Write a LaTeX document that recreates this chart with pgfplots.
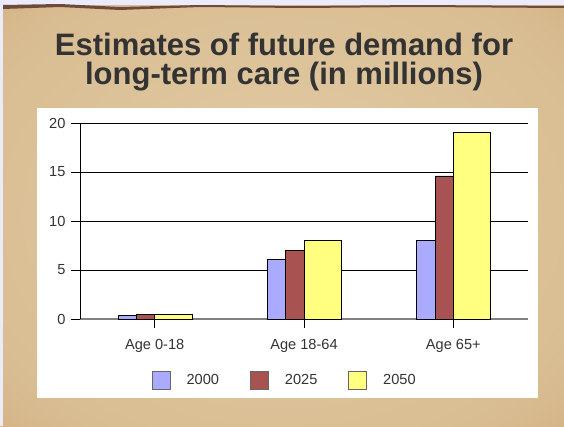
\documentclass[border=0pt]{standalone}
\usepackage{fontspec}
\setmainfont{Liberation Sans}
\usepackage{pgfplots}
\pgfplotsset{compat=1.18}
\definecolor{c2000}{HTML}{AAAAFF}
\definecolor{c2025}{HTML}{A85252}
\definecolor{c2050}{HTML}{FFFF80}
\definecolor{paperlight}{HTML}{E2CCA6}
\definecolor{paper}{HTML}{D9BD92}
\definecolor{paperdark}{HTML}{C49E6C}
\definecolor{edge}{HTML}{6E4A3A}
\definecolor{txt}{HTML}{333333}
\pgfdeclareradialshading{parch}{\pgfpoint{0bp}{0bp}}{color(0bp)=(paperlight); color(30bp)=(paper); color(50bp)=(paperdark); color(72bp)=(paperdark)}

\begin{document}
\begin{tikzpicture}
\useasboundingbox (0pt,0pt) rectangle (564pt,-426pt);
\shade[shading=parch] (0pt,0pt) rectangle (564pt,-426pt);
% torn top edge
\fill[black!20!blue!8!white] (0pt,0pt) rectangle (564pt,-5pt);
\fill[black!20!blue!8!white] (0pt,0pt) rectangle (3pt,-426pt);
\fill[edge] (3pt,-5pt) -- (60pt,-4pt) -- (120pt,-7pt) -- (200pt,-5pt) -- (300pt,-6pt) -- (420pt,-5pt) -- (564pt,-6pt)
  -- (564pt,-8pt) -- (420pt,-7pt) -- (300pt,-8pt) -- (200pt,-7pt) -- (120pt,-10pt) -- (60pt,-7pt) -- (3pt,-9pt) -- cycle;
\fill[white] (37pt,-108pt) rectangle (538pt,-398pt);
\node[font=\bfseries\fontsize{31}{33}\selectfont, text=txt] at (284pt,-44pt) {Estimates of future demand for};
\node[font=\bfseries\fontsize{31}{33}\selectfont, text=txt] at (284pt,-77pt) {long-term care (in millions)};

\begin{axis}[at={(80pt,-319pt)}, anchor=south west, scale only axis,
  width=448pt, height=196pt,
  xmin=-0.5, xmax=2.5, ymin=0, ymax=20,
  ybar,
  axis x line*=bottom, axis y line*=left,
  x axis line style={draw=black!50, line width=1.6pt},
  y axis line style={draw=black, line width=0.8pt},
  xtick={0,1,2}, xticklabels={Age 0-18, Age 18-64, Age 65+},
  ytick={0,5,10,15,20},
  ymajorgrids, grid style={black, line width=0.8pt},
  tick align=outside, major tick length=9pt,
  tick style={black, line width=0.8pt},
  tick label style={font=\fontsize{14.6}{16}\selectfont, text=txt},
  xticklabel style={yshift=-8pt},
  yticklabel style={xshift=-2pt},
  /pgf/number format/assume math mode=true,
  legend style={at={(0.457,-0.311)}, anchor=center, draw=none, fill=none,
    font=\fontsize{14.6}{16}\selectfont, text=txt,
    /tikz/every odd column/.append style={column sep=14pt},
    /tikz/every even column/.append style={column sep=29pt}},
  legend columns=3,
  legend image code/.code={\draw[#1, draw=black!60, line width=0.8pt] (0pt,-9pt) rectangle (18pt,9pt);},
]
\addplot[fill=c2000, draw=black, line width=0.8pt, bar width=18.3pt, bar shift=-27.5pt] coordinates {(0,0.4) (1,6.1) (2,8.0)};
\addplot[fill=c2025, draw=black, line width=0.8pt, bar width=18.3pt, bar shift=-9pt] coordinates {(0,0.5) (1,7.0) (2,14.6)};
\addplot[fill=c2050, draw=black, line width=0.8pt, bar width=37.5pt, bar shift=18.8pt] coordinates {(0,0.5) (1,8.0) (2,19.0)};
\legend{2000,2025,2050}
\end{axis}
\end{tikzpicture}
\end{document}
